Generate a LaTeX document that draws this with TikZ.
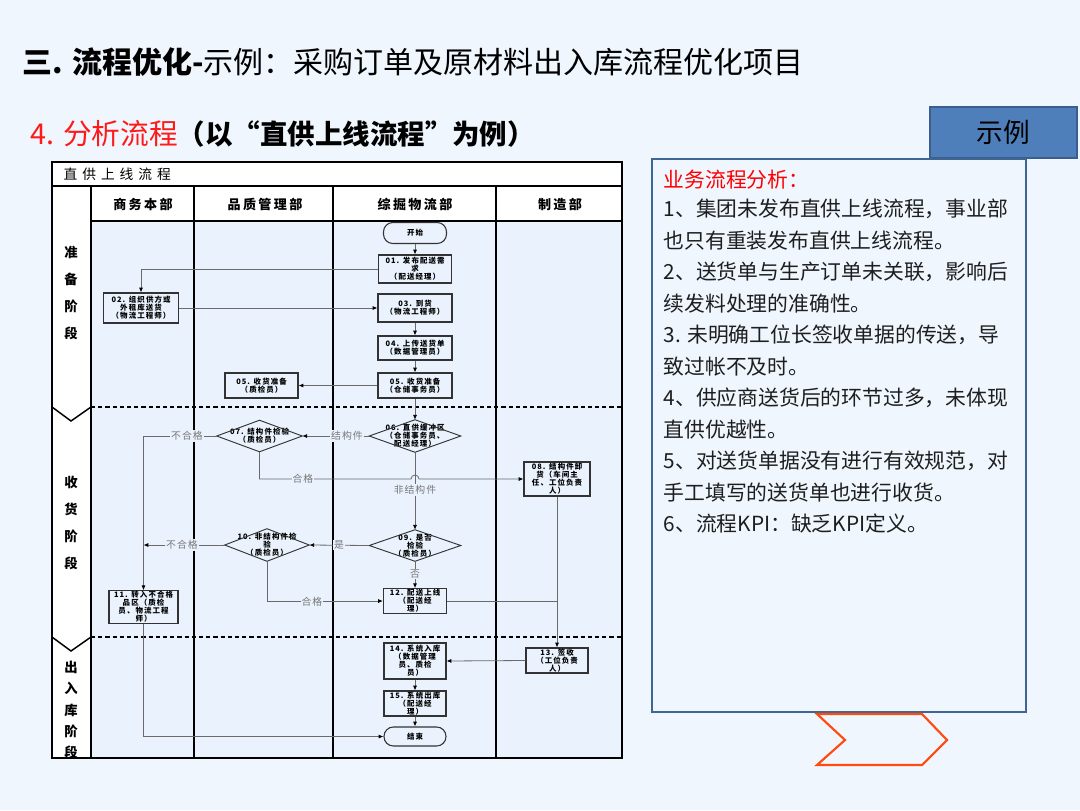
\documentclass[tikz,border=0pt]{standalone}
\usepackage{fontspec}
\setmainfont{Noto Sans CJK SC}
\usetikzlibrary{arrows.meta,calc}
\definecolor{slidebg}{HTML}{EFF6FE}
\definecolor{lanebg}{HTML}{EAF3FD}
\definecolor{boxc}{HTML}{333333}
\definecolor{connc}{HTML}{6A6A6A}
\definecolor{lblc}{HTML}{777777}
\definecolor{exfill}{HTML}{4F7FBA}
\definecolor{exbord}{HTML}{3A5F8F}
\definecolor{panelbord}{HTML}{3F6593}
\definecolor{paneltext}{HTML}{1E1E1E}
\definecolor{chev}{HTML}{FF4A10}
\definecolor{titlered}{HTML}{FF1A1A}
\newcommand\boxfont{\fontsize{5.6}{6}\selectfont\bfseries\addfontfeature{LetterSpace=14}}
\newcommand\lblfont{\fontsize{7.4}{8}\selectfont\addfontfeature{LetterSpace=10}}
\newcommand\hdrfont{\fontsize{9.8}{11}\selectfont\bfseries\addfontfeature{LetterSpace=18}}
\newcommand\fctitlefont{\fontsize{10.3}{12}\selectfont\addfontfeature{LetterSpace=36}}
\newcommand\titlefont{\fontsize{22.5}{27}\selectfont}
\newcommand\panelfont{\fontsize{15.6}{18}\selectfont}
\newcommand\exfont{\fontsize{20}{24}\selectfont}
\tikzset{
  laneline/.style={line width=1.1pt, draw=black},
  phaseline/.style={line width=1.2pt, draw=black, dash pattern=on 3.2pt off 2.2pt},
  boxn/.style={draw=boxc, line width=0.8pt, align=center, inner sep=0.5pt, font=\boxfont, text=black},
  termn/.style={boxn, rounded corners=7pt},
  dian/.style={align=center, inner sep=0pt, font=\boxfont, text=black},
  diaframe/.style={draw=boxc, line width=0.7pt},
  connl/.style={draw=connc, line width=0.6pt},
  arrl/.style={connl, -{Latex[length=3.6pt,width=3pt,color=black]}},
  lbln/.style={fill=lanebg, inner sep=0.8pt, text=lblc, font=\lblfont},
  hdrn/.style={font=\hdrfont, text=black},
  phasen/.style={align=center, text=black},
  paneln/.style={anchor=west, font=\panelfont, text=paneltext}
}
\begin{document}
\begin{tikzpicture}[x=0.75pt,y=-0.75pt]
\useasboundingbox (0,0) rectangle (1080,810);
\fill[slidebg] (0,0) rectangle (1080,810);

% ---- titles
\node[anchor=west, font=\titlefont, text=black] (title) at (18,62) {\textbf{三. 流程优化-}示例：采购订单及原材料出入库流程优化项目};
\node[anchor=west] (sub) at (26,134) {{\fontsize{21.5}{26}\selectfont\color{titlered}4. 分析流程}{\fontsize{20.6}{26}\selectfont\bfseries（以“直供上线流程”为例）}};

% ---- flowchart frame
\fill[white] (52,162) rectangle (622,758);
\fill[lanebg] (91,221) rectangle (622,758);
\draw[laneline] (52,162) rectangle (622,758);
\draw[laneline] (52,186) -- (622,186);
\draw[laneline] (91,221) -- (622,221);
\draw[laneline] (91,186) -- (91,758);
\draw[laneline] (194,186) -- (194,758);
\draw[laneline] (333,186) -- (333,758);
\draw[laneline] (496,186) -- (496,758);
\draw[phaseline] (91,407) -- (622,407);
\draw[phaseline] (91,637) -- (622,637);
\draw[laneline] (52,407) -- (71,421) -- (91,407);
\draw[laneline] (52,637) -- (71,651) -- (91,637);

\node[anchor=west, font=\fctitlefont] (fct) at (59,174.5) {直供上线流程};
\node[hdrn] (h1) at (143,204) {商务本部};
\node[hdrn] (h2) at (265,204) {品质管理部};
\node[hdrn] (h3) at (415,204) {综掘物流部};
\node[hdrn] (h4) at (560,204) {制造部};
\node[phasen, font={\fontsize{10}{20.25}\selectfont\bfseries}] (p1) at (71,292.5) {准\\备\\阶\\段};
\node[phasen, font={\fontsize{10}{20.25}\selectfont\bfseries}] (p2) at (71,522.5) {收\\货\\阶\\段};
\node[phasen, font={\fontsize{10}{16.1}\selectfont\bfseries}] (p3) at (71,710) {出\\入\\库\\阶\\段};

% ---- nodes
\node[termn, minimum width=47.25pt, minimum height=15.75pt] (start) at (415,233) {开始};
\node[boxn, minimum width=54.75pt, minimum height=21pt] (b1) at (415,269) {01. 发布配送需\\求\\（配送经理）};
\node[boxn, minimum width=56.25pt, minimum height=22.5pt] (b2) at (141,308) {02. 组织供方或\\外租库送货\\（物流工程师）};
\node[boxn, minimum width=55.5pt, minimum height=21pt] (b3) at (415,308) {03. 到货\\（物流工程师）};
\node[boxn, minimum width=55.5pt, minimum height=18pt] (b4) at (415,348) {04. 上传送货单\\（数据管理员）};
\node[boxn, minimum width=55.5pt, minimum height=18.75pt] (b5) at (415,385.5) {05. 收货准备\\（仓储事务员）};
\node[boxn, minimum width=54.75pt, minimum height=18.75pt] (b5q) at (261.5,385.5) {05. 收货准备\\（质检员）};

\node[dian, minimum width=68.25pt, minimum height=24pt] (d6) at (415,436) {06. 直供缓冲区\\（仓储事务员、\\配送经理）};
\node[dian, minimum width=63.75pt, minimum height=23.25pt] (d7) at (259.5,436) {07. 结构件检验\\（质检员）};
\node[boxn, minimum width=49.5pt, minimum height=25.5pt] (b8) at (557,479) {08. 结构件卸\\货（车间主\\任、工位负责\\人）};
\node[dian, minimum width=68.25pt, minimum height=23.25pt] (d9) at (415,545.5) {09. 是否\\检验\\（质检员）};
\node[dian, minimum width=63pt, minimum height=24pt] (d10) at (267,545) {10. 非结构件检\\验\\（质检员）};
\node[boxn, minimum width=51.75pt, minimum height=24pt] (b11) at (143.5,607) {11. 转入不合格\\品区（质检\\员、物流工程\\师）};
\node[boxn, minimum width=47.25pt, minimum height=18pt] (b12) at (415,601) {12. 配送上线\\（配送经\\理）};

\node[boxn, minimum width=46.5pt, minimum height=18.75pt] (b13) at (557,660.5) {13. 签收\\（工位负责\\人）};
\node[boxn, minimum width=46.5pt, minimum height=27pt] (b14) at (415,661) {14. 系统入库\\（数据管理\\员、质检\\员）};
\node[boxn, minimum width=46.5pt, minimum height=18.75pt] (b15) at (415,703.5) {15. 系统出库\\（配送经\\理）};
\node[termn, minimum width=46.5pt, minimum height=14.25pt] (end) at (415,736.5) {结束};

\foreach \n in {d6,d7,d9,d10}
  \draw[diaframe] (\n.west) -- (\n.north) -- (\n.east) -- (\n.south) -- cycle;

% ---- connectors
\draw[arrl] (start) -- (b1);
\draw[arrl] (b1.west) -| (b2.north);
\draw[arrl] (b2.east) -- (b3.west);
\draw[arrl] (b3) -- (b4);
\draw[arrl] (b4) -- (b5);
\draw[arrl] (b5.west) -- (b5q.east);
\draw[arrl] (b5) -- (d6.north);
\draw[arrl] (d6.west) -- (d7.east);
\draw[arrl] (d7.west) -| (b11.north);
\draw[arrl] (d7.south) -- (d7.south |- b8.west) -- ($(d6.south |- b8.west)+(-4,0)$) arc[start angle=180, end angle=0, radius=3pt] -- (b8.west);
\draw[arrl] (d6.south) -- (d9.north);
\draw[arrl] (d9.west) -- (d10.east);
\draw[arrl] (d10.west) -- (d10.west -| b11.north);
\draw[arrl] (d10.south) |- (b12.west);
\draw[arrl] (d9.south) -- (b12.north);
\draw[connl] (b12.east) -- (b12.east -| b13.north);
\draw[arrl] (b8.south) -- (b13.north);
\draw[arrl] (b13.west) -- (b14.east);
\draw[arrl] (b14) -- (b15);
\draw[arrl] (b15) -- (end);
\draw[arrl] (b11.south) |- (end.west);

% ---- connector labels
\node[lbln] (l1) at (347,436) {结构件};
\node[lbln] (l2) at (187,436) {不合格};
\node[lbln] (l3) at (303,479) {合格};
\node[lbln] (l4) at (415,490) {非结构件};
\node[lbln] (l5) at (339,545) {是};
\node[lbln] (l6) at (182,545) {不合格};
\node[lbln] (l7) at (312,602) {合格};
\node[lbln] (l8) at (415,574) {否};

% ---- right panel
\node[draw=exbord, fill=exfill, line width=1.2pt, minimum width=110.25pt, minimum height=38.25pt, font=\exfont, text=black] (ex) at (1003.5,132.5) {示例};
\node[draw=panelbord, fill=slidebg, line width=1.5pt, minimum width=280.5pt, minimum height=414.75pt, anchor=north west, inner sep=0pt] (panel) at (651,158) {};
\node[paneln, text=red] (ph) at (659,180) {业务流程分析：};
\foreach \t [count=\i] in {1、集团未发布直供上线流程，事业部, 也只有重装发布直供上线流程。, 2、送货单与生产订单未关联，影响后, 续发料处理的准确性。, 3. 未明确工位长签收单据的传送，导, 致过帐不及时。, 4、供应商送货后的环节过多，未体现, 直供优越性。, 5、对送货单据没有进行有效规范，对, 手工填写的送货单也进行收货。, 6、流程KPI：缺乏KPI定义。}
  \node[paneln] (t\i) at (659,{177.5+\i*31.5}) {\t};

\draw[chev, line width=1.6pt, line join=miter] (817,714) -- (922,714) -- (947,740) -- (922,765) -- (817,765) -- (845,740) -- cycle;
\end{tikzpicture}
\end{document}
